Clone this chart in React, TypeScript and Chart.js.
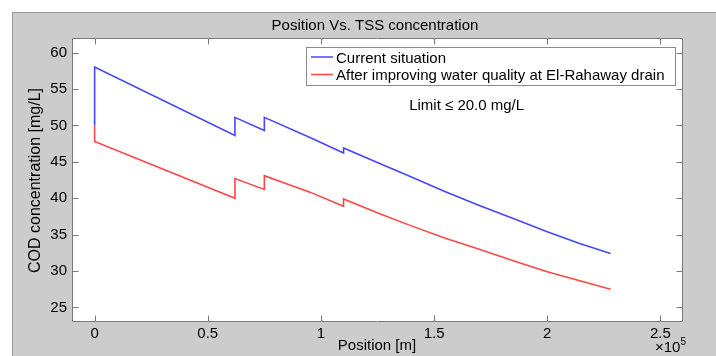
import React, { useEffect, useRef } from "react";
import { Chart, registerables } from "chart.js";

Chart.register(...registerables);

// ---- data ----
const positions = [0, 0, 62000, 62000, 75000, 75000, 95400, 110000, 110000, 125700, 140000, 155000, 170000, 185000, 200000, 214000, 228000];
const currentValues = [50, 58, 48.6, 51.1, 49.3, 51.1, 48.3, 46.2, 46.9, 44.8, 42.9, 40.9, 39.0, 37.2, 35.4, 33.8, 32.4];
const improvedValues = [50, 47.8, 40.0, 42.7, 41.2, 43.1, 40.8, 38.9, 39.9, 37.9, 36.2, 34.5, 33.0, 31.4, 29.9, 28.7, 27.5];
const seriesLabels = ["Current situation", "After improving water quality at El-Rahaway drain"];
const xTicks = [0, 50000, 100000, 150000, 200000, 250000];
const yTicks = [25, 30, 35, 40, 45, 50, 55, 60];
const titleText = "Position Vs. TSS concentration";
const xTitle = "Position [m]";
const yTitle = "COD concentration [mg/L]";
const limitText = "Limit \u2264 20.0 mg/L";
const limitAt = { x: 139000, y: 52.1 };

const FONT = "Liberation Sans, Arial, Helvetica, sans-serif";
const AXIS_GREY = "#7a7a7a";

const decorPlugin = {
  id: "decor",
  beforeDraw(chart: any) {
    const { ctx, width, height, chartArea: a } = chart;
    ctx.save();
    ctx.fillStyle = "#ffffff";
    ctx.fillRect(0, 0, width, height);
    ctx.fillStyle = "#cccccc";
    ctx.fillRect(12, 12, width - 12, height - 12);
    ctx.strokeStyle = "#999999";
    ctx.lineWidth = 1;
    ctx.beginPath();
    ctx.moveTo(12.5, height);
    ctx.lineTo(12.5, 12.5);
    ctx.lineTo(width, 12.5);
    ctx.stroke();
    ctx.fillStyle = "#ffffff";
    ctx.fillRect(a.left, a.top, a.right - a.left, a.bottom - a.top);
    ctx.restore();
  },
  afterDatasetsDraw(chart: any) {
    const { ctx, chartArea: a, scales } = chart;
    const xs = scales.x;
    const ys = scales.y;
    ctx.save();
    ctx.strokeStyle = AXIS_GREY;
    ctx.lineWidth = 1;
    const L = Math.round(a.left) + 0.5;
    const R = Math.round(a.right) - 0.5;
    const T = Math.round(a.top) + 0.5;
    const B = Math.round(a.bottom) - 0.5;
    ctx.beginPath();
    ctx.rect(L, T, R - L, B - T);
    ctx.stroke();
    const tl = 6;
    ctx.beginPath();
    xTicks.forEach((v) => {
      const px = Math.round(xs.getPixelForValue(v)) + 0.5;
      ctx.moveTo(px, B);
      ctx.lineTo(px, B - tl);
      ctx.moveTo(px, T);
      ctx.lineTo(px, T + tl);
    });
    yTicks.forEach((v) => {
      const py = Math.round(ys.getPixelForValue(v)) + 0.5;
      ctx.moveTo(L, py);
      ctx.lineTo(L + tl, py);
      ctx.moveTo(R, py);
      ctx.lineTo(R - tl, py);
    });
    ctx.stroke();
    ctx.restore();
  },
  afterDraw(chart: any) {
    const { ctx, scales } = chart;
    ctx.save();
    ctx.fillStyle = "#000000";
    ctx.textBaseline = "alphabetic";
    // title
    ctx.font = `15px ${FONT}`;
    ctx.textAlign = "center";
    ctx.fillText(titleText, 375, 29.5);
    // x title
    ctx.fillText(xTitle, 377, 349.5);
    // y title
    ctx.save();
    ctx.font = `16px ${FONT}`;
    ctx.translate(40, 180.5);
    ctx.rotate(-Math.PI / 2);
    ctx.fillText(yTitle, 0, 0);
    ctx.restore();
    // x10^5
    ctx.textAlign = "left";
    ctx.font = `15px ${FONT}`;
    ctx.fillText("\u00d710", 655, 351.5);
    const w = ctx.measureText("\u00d710").width;
    ctx.font = `10px ${FONT}`;
    ctx.fillText("5", 655 + w, 345);
    // limit text
    ctx.font = `15px ${FONT}`;
    ctx.fillText(limitText, scales.x.getPixelForValue(limitAt.x), scales.y.getPixelForValue(limitAt.y));
    // legend
    const lx = 306.5, ly = 47.5, lw = 369, lh = 38;
    ctx.fillStyle = "#ffffff";
    ctx.fillRect(lx, ly, lw, lh);
    ctx.strokeStyle = "#8a8a8a";
    ctx.lineWidth = 1;
    ctx.strokeRect(lx, ly, lw, lh);
    const rows = [57, 74.5];
    chart.data.datasets.forEach((ds: any, i: number) => {
      ctx.strokeStyle = ds.borderColor;
      ctx.lineWidth = 1.5;
      ctx.beginPath();
      ctx.moveTo(311, rows[i]);
      ctx.lineTo(333, rows[i]);
      ctx.stroke();
      ctx.fillStyle = "#000000";
      ctx.font = `15px ${FONT}`;
      ctx.textAlign = "left";
      ctx.fillText(ds.label, 336, rows[i] + 5.5);
    });
    ctx.restore();
  },
};

export default function App() {
  const ref = useRef<HTMLCanvasElement | null>(null);
  useEffect(() => {
    if (!ref.current) return;
    const chart = new Chart(ref.current, {
      type: "line",
      data: {
        datasets: [
          {
            label: seriesLabels[0],
            data: positions.map((x, i) => ({ x, y: currentValues[i] })),
            borderColor: "#4646ff",
            borderWidth: 1.6,
            pointRadius: 0,
            tension: 0,
            fill: false,
          },
          {
            label: seriesLabels[1],
            data: positions.map((x, i) => ({ x, y: improvedValues[i] })),
            borderColor: "#ff4646",
            borderWidth: 1.6,
            pointRadius: 0,
            tension: 0,
            fill: false,
          },
        ],
      },
      options: {
        animation: false,
        responsive: false,
        devicePixelRatio: 1,
        layout: { padding: { top: 38, right: 33, left: 0, bottom: 0 } },
        plugins: {
          legend: { display: false },
          title: { display: false },
          tooltip: { enabled: false },
        },
        scales: {
          x: {
            type: "linear",
            min: -10000,
            max: 260000,
            grid: { display: false, drawTicks: false },
            border: { display: false },
            afterBuildTicks: (s: any) => {
              s.ticks = xTicks.map((v) => ({ value: v }));
            },
            afterFit: (s: any) => {
              s.height = 34;
            },
            ticks: {
              maxRotation: 0,
              autoSkip: false,
              padding: 3,
              color: "#000000",
              font: { family: FONT, size: 15 },
              callback: (v: any) => String(Number(v) / 100000),
            },
          },
          y: {
            type: "linear",
            min: 23,
            max: 62,
            grid: { display: false, drawTicks: false },
            border: { display: false },
            afterBuildTicks: (s: any) => {
              s.ticks = yTicks.map((v) => ({ value: v }));
            },
            afterFit: (s: any) => {
              s.width = 72;
            },
            ticks: {
              autoSkip: false,
              padding: 5,
              color: "#000000",
              font: { family: FONT, size: 15 },
              callback: (v: any) => String(v),
            },
          },
        },
      },
      plugins: [decorPlugin],
    } as any);
    return () => chart.destroy();
  }, []);
  return (
    <div style={{ position: "fixed", left: 0, top: 0, width: 716, height: 356, background: "#fff" }}>
      <canvas ref={ref} width={716} height={356} style={{ display: "block", width: 716, height: 356 }} />
    </div>
  );
}
